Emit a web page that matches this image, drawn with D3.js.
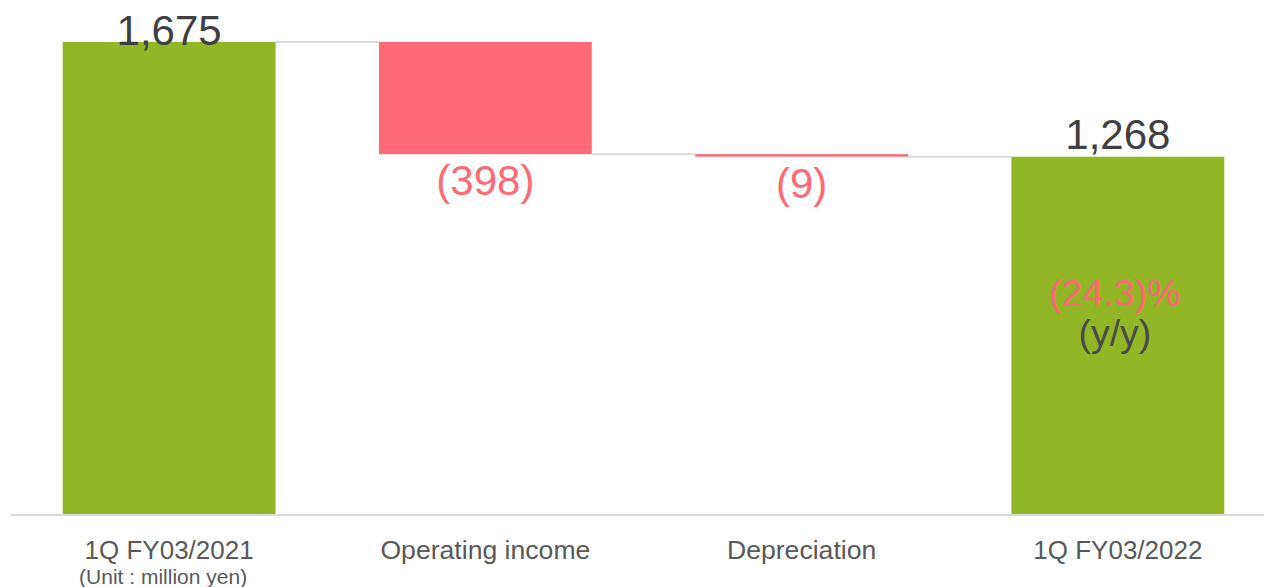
<!DOCTYPE html>
<meta charset="utf-8">
<style>
  body {
    margin: 0;
    font-family: "Liberation Sans", Arial, sans-serif;
    background: #fff;
  }
  .value { font-size: 42px; text-anchor: middle; }
  .cat { font-size: 26px; fill: #595959; text-anchor: middle; }
</style>
<body>
<div id="chart"></div>
<script src="https://cdn.jsdelivr.net/npm/d3@7"></script>
<script>

var width = 1264,
    height = 587;

// data
var categories = ["1Q FY03/2021", "Operating income", "Depreciation", "1Q FY03/2022"];
var kinds = ["total", "delta", "delta", "total"];
var values = [1675, -398, -9, 1268];
var valueLabels = ["1,675", "(398)", "(9)", "1,268"];
var changeLabel = "(24.3)%";
var changeNote = "(y/y)";
var unitNote = "(Unit : million yen)";

var green = "#93b626",
    red = "#fe6978",
    grey = "#d9d9d9",
    dark = "#404040";

// running levels for the waterfall
var level = 0;
var bars = categories.map(function(c, i) {
  var start, end;
  if (kinds[i] == "total") { start = 0; end = values[i]; level = values[i]; }
  else { start = level; end = level + values[i]; level = end; }
  return { cat: c, kind: kinds[i], start: start, end: end, label: valueLabels[i] };
});

var x = d3.scaleBand()
  .domain(categories)
  .range([11, 1276])
  .paddingInner(0.327)
  .paddingOuter(0.1635);

var y = d3.scaleLinear()
  .domain([0, 1675])
  .range([514, 42]);

var svg = d3.select("#chart").append("svg")
  .attr("width", width)
  .attr("height", height);

// baseline
svg.append("line")
  .attr("x1", 11).attr("x2", width)
  .attr("y1", y(0) + 1).attr("y2", y(0) + 1)
  .attr("stroke", grey).attr("stroke-width", 2);

// connectors between bars
bars.slice(0, -1).forEach(function(b, i) {
  var lv = bars[i + 1].kind == "total" ? bars[i + 1].end : bars[i + 1].start;
  svg.append("line")
    .attr("x1", x(b.cat) + x.bandwidth())
    .attr("x2", x(bars[i + 1].cat))
    .attr("y1", y(lv)).attr("y2", y(lv))
    .attr("stroke", grey).attr("stroke-width", 2);
});

svg.selectAll("rect.bar")
  .data(bars)
  .enter().append("rect")
  .attr("class", "bar")
  .attr("x", function(d) { return x(d.cat); })
  .attr("width", x.bandwidth())
  .attr("y", function(d) { return y(Math.max(d.start, d.end)); })
  .attr("height", function(d) { return Math.max(2.5, Math.abs(y(d.start) - y(d.end))); })
  .attr("fill", function(d) { return d.kind == "total" ? green : red; });

// value labels
svg.selectAll("text.value")
  .data(bars)
  .enter().append("text")
  .attr("class", "value")
  .attr("x", function(d) { return x(d.cat) + x.bandwidth() / 2; })
  .attr("y", function(d) {
    return d.kind == "total" ? y(d.end) - 8 + (d === bars[0] ? 11 : 0) : y(Math.min(d.start, d.end)) + 41;
  })
  .attr("fill", function(d) { return d.kind == "total" ? dark : red; })
  .text(function(d) { return d.label; });

// y/y change inside the last bar
var last = bars[bars.length - 1];
var cx = x(last.cat) + x.bandwidth() / 2 - 3;
svg.append("text")
  .attr("class", "value")
  .attr("x", cx).attr("y", 306)
  .style("font-size", "37.5px")
  .attr("fill", red)
  .text(changeLabel);
svg.append("text")
  .attr("class", "value")
  .attr("x", cx).attr("y", 346)
  .style("font-size", "37.5px")
  .attr("fill", "#4a4a4a")
  .text(changeNote);

// category labels
svg.selectAll("text.cat")
  .data(categories)
  .enter().append("text")
  .attr("class", "cat")
  .attr("x", function(d) { return x(d) + x.bandwidth() / 2; })
  .style("font-size", function(d, i) { return i == 1 || i == 2 ? "26.6px" : "26px"; })
  .attr("y", 559)
  .text(function(d) { return d; });

svg.append("text")
  .attr("class", "cat")
  .attr("x", x(categories[0]) + x.bandwidth() / 2 - 6)
  .attr("y", 584)
  .style("font-size", "21px")
  .text(unitNote);

</script>
</body>
